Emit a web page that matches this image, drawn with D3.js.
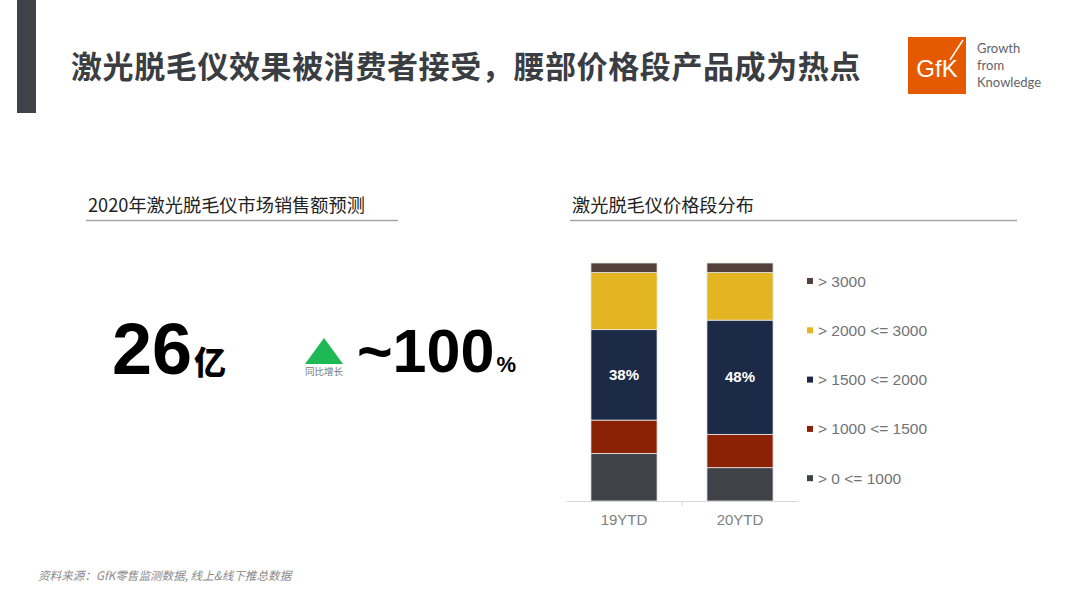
<!DOCTYPE html>
<html>
<head>
<meta charset="utf-8">
<script src="https://cdn.jsdelivr.net/npm/d3@7"></script>
<style>
  body { margin: 0; background: #fff; }
  svg { display: block; }
</style>
</head>
<body>
<div id="chart"></div>
<script>
var svgWidth = 1080;
var svgHeight = 608;

// data
var periods = ["19YTD", "20YTD"];
var priceBands = ["> 0 <= 1000", "> 1000 <= 1500", "> 1500 <= 2000", "> 2000 <= 3000", "> 3000"];
var share19 = [20, 14, 38, 24, 4];
var share20 = [14, 14, 48, 20, 4];
var labelBand = "> 1500 <= 2000";
var bandColors = ["#3f4246", "#8b2206", "#1c2a47", "#e3b522", "#54403a"];

var font = "'Noto Sans CJK SC', 'Noto Sans', sans-serif";
var latin = "'Liberation Sans', Arial, sans-serif";

var svg = d3.select("#chart")
  .append("svg")
  .attr("width", svgWidth)
  .attr("height", svgHeight);

// left dark bar + title
svg.append("rect")
  .attr("x", 17).attr("y", 0)
  .attr("width", 19).attr("height", 113)
  .attr("fill", "#3f4246");

svg.append("text")
  .attr("x", 71).attr("y", 78)
  .attr("font-family", font)
  .attr("font-weight", "bold")
  .attr("font-size", 31)
  .attr("letter-spacing", 0.6)
  .attr("fill", "#3a3d42")
  .text("激光脱毛仪效果被消费者接受，腰部价格段产品成为热点");

// GfK logo
var logo = svg.append("g");
logo.append("rect")
  .attr("x", 908).attr("y", 37)
  .attr("width", 58).attr("height", 57)
  .attr("fill", "#e55a00");
logo.append("text")
  .attr("x", 937).attr("y", 77)
  .attr("text-anchor", "middle")
  .attr("font-family", latin)
  .attr("font-size", 24)
  .attr("fill", "#fff")
  .text("GfK");
logo.append("line")
  .attr("x1", 950).attr("y1", 60)
  .attr("x2", 963).attr("y2", 40)
  .attr("stroke", "#fff").attr("stroke-width", 1.5);
["Growth", "from", "Knowledge"].forEach(function(t, i) {
  logo.append("text")
    .attr("x", 977).attr("y", 53 + i * 17)
    .attr("font-family", "Lato, sans-serif")
    .attr("font-size", 13)
    .attr("fill", "#5f6368")
    .text(t);
});

// section headers
function header(x, x2, label) {
  svg.append("text")
    .attr("x", x).attr("y", 212)
    .attr("font-family", font)
    .attr("font-size", 18.2)
    .attr("fill", "#222")
    .text(label);
  svg.append("line")
    .attr("x1", x - 2).attr("x2", x2)
    .attr("y1", 220.5).attr("y2", 220.5)
    .attr("stroke", "#a6a6a6").attr("stroke-width", 1.5);
}
header(88, 398, "2020年激光脱毛仪市场销售额预测");
header(572, 1017, "激光脱毛仪价格段分布");

// big numbers
var big = svg.append("text")
  .attr("x", 112).attr("y", 374)
  .attr("font-family", font)
  .attr("font-weight", "900")
  .attr("fill", "#000");
big.append("tspan").attr("font-size", 72).attr("font-family", latin).attr("font-weight", "bold").text("26");
big.append("tspan").attr("font-size", 32).attr("dx", 2).text("亿");

svg.append("path")
  .attr("d", "M305,364 L343,364 L324,338 Z")
  .attr("fill", "#1db954");
svg.append("text")
  .attr("x", 324).attr("y", 375)
  .attr("text-anchor", "middle")
  .attr("font-family", font)
  .attr("font-size", 9.5)
  .attr("fill", "#777")
  .text("同比增长");

var growth = svg.append("text")
  .attr("x", 357).attr("y", 372)
  .attr("font-family", latin)
  .attr("font-weight", "bold")
  .attr("fill", "#000");
growth.append("tspan").attr("font-size", 61).text("~100");
growth.append("tspan").attr("font-size", 22).attr("dx", 2).text("%");

// stacked bars
var rows = periods.map(function(p, i) {
  var vals = i === 0 ? share19 : share20;
  var row = { period: p };
  priceBands.forEach(function(b, j) { row[b] = vals[j]; });
  return row;
});

var stack = d3.stack().keys(priceBands)(rows);

var xScale = d3.scaleBand()
  .domain(periods)
  .range([566, 798])
  .paddingInner(0.43)
  .paddingOuter(0.215);

var yScale = d3.scaleLinear()
  .domain([0, 100])
  .range([501, 263]);

var color = d3.scaleOrdinal().domain(priceBands).range(bandColors);

var layers = svg.append("g").selectAll("g")
  .data(stack)
  .enter()
  .append("g")
  .attr("fill", d => color(d.key));

layers.selectAll("rect")
  .data(d => d)
  .enter()
  .append("rect")
  .attr("x", d => xScale(d.data.period))
  .attr("y", d => yScale(d[1]))
  .attr("width", xScale.bandwidth())
  .attr("height", d => yScale(d[0]) - yScale(d[1]))
  .attr("stroke", "#e8e8e8")
  .attr("stroke-width", 0.8);

var mid = stack.find(s => s.key === labelBand);
svg.append("g").selectAll("text")
  .data(mid)
  .enter()
  .append("text")
  .attr("x", d => xScale(d.data.period) + xScale.bandwidth() / 2)
  .attr("y", d => yScale((d[0] + d[1]) / 2) + 5)
  .attr("text-anchor", "middle")
  .attr("font-family", latin)
  .attr("font-weight", "bold")
  .attr("font-size", 15)
  .attr("fill", "#fff")
  .text(d => (d[1] - d[0]) + "%");

// x axis
var xAxis = svg.append("g")
  .attr("transform", "translate(0, 501)")
  .call(d3.axisBottom(xScale).tickSize(0).tickPadding(13));
xAxis.select(".domain").attr("stroke", "#d9d9d9");
xAxis.selectAll("text")
  .attr("font-family", latin)
  .attr("font-size", 15)
  .attr("fill", "#7f7f7f");
svg.append("line")
  .attr("x1", 682).attr("x2", 682)
  .attr("y1", 501).attr("y2", 506)
  .attr("stroke", "#d9d9d9");

// legend
var legendItems = priceBands.slice().reverse();
var legend = svg.append("g").selectAll("g")
  .data(legendItems)
  .enter()
  .append("g")
  .attr("transform", (d, i) => `translate(807, ${281 + i * 49.3})`);
legend.append("rect")
  .attr("x", 0).attr("y", -3)
  .attr("width", 6).attr("height", 6)
  .attr("fill", d => color(d));
legend.append("text")
  .attr("x", 11).attr("y", 5.5)
  .attr("font-family", latin)
  .attr("font-size", 15.5)
  .attr("fill", "#6f7378")
  .text(d => d);

// footnote
svg.append("text")
  .attr("x", 38).attr("y", 580)
  .attr("font-family", font)
  .attr("font-size", 11.6)
  .attr("font-style", "italic")
  .attr("fill", "#8a8a8a")
  .text("资料来源：GfK零售监测数据, 线上&线下推总数据");
</script>
</body>
</html>
